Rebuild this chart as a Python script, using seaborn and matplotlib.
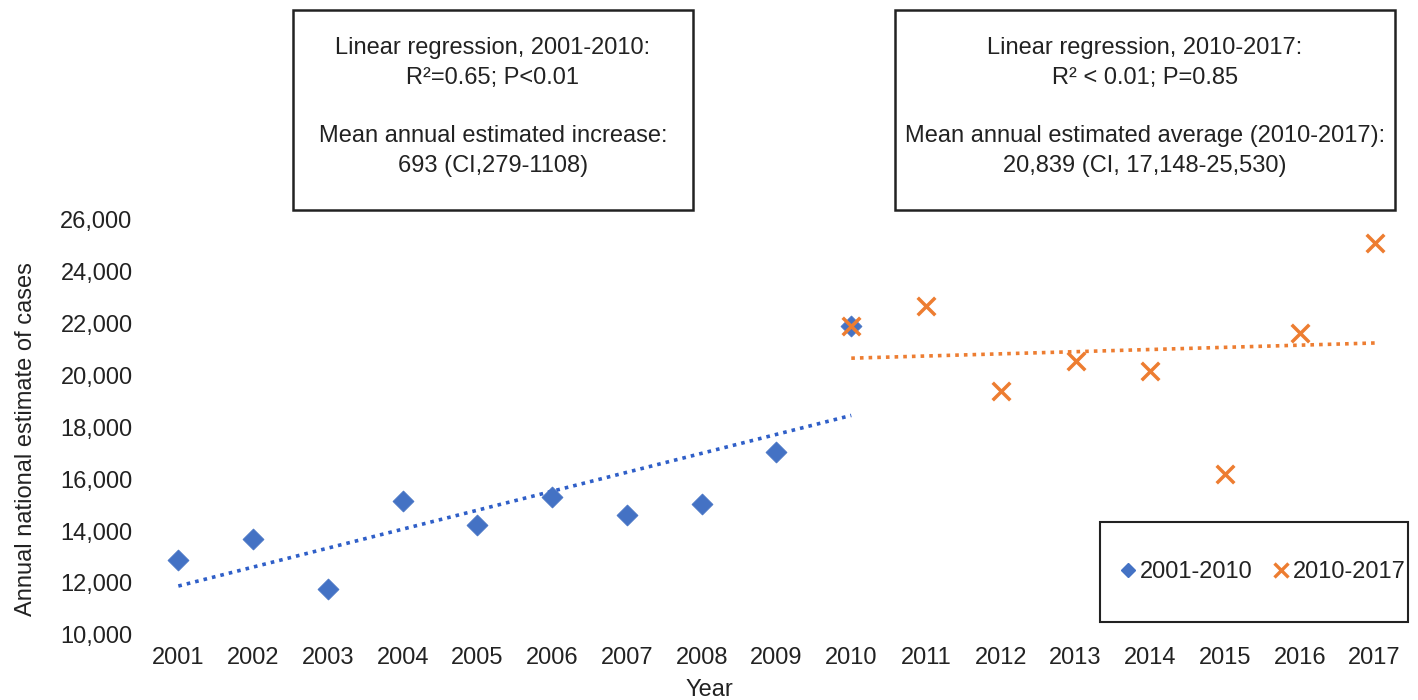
import matplotlib
matplotlib.use('Agg')
import matplotlib.pyplot as plt
from matplotlib.patches import Rectangle
from matplotlib.lines import Line2D
import seaborn as sns
import pandas as pd

years_a = [2001, 2002, 2003, 2004, 2005, 2006, 2007, 2008, 2009, 2010]
cases_a = [12900, 13700, 11750, 15150, 14250, 15300, 14600, 15050, 17050, 21900]
years_b = [2010, 2011, 2012, 2013, 2014, 2015, 2016, 2017]
cases_b = [21900, 22650, 19400, 20550, 20150, 16200, 21600, 25080]
y_ticks = [10000, 12000, 14000, 16000, 18000, 20000, 22000, 24000, 26000]

box_a = ['Linear regression, 2001-2010:', 'R\u00b2=0.65; P<0.01', '',
         'Mean annual estimated increase:', '693 (CI,279-1108)']
box_b = ['Linear regression, 2010-2017:', 'R\u00b2 < 0.01; P=0.85', '',
         'Mean annual estimated average (2010-2017):', '20,839 (CI, 17,148-25,530)']

BLUE = '#4472C4'
ORANGE = '#ED7D31'
TEXT = '#222222'
FS = 17

sns.set_theme(style='white')
plt.rcParams['font.family'] = ['Liberation Sans', 'DejaVu Sans']

df_a = pd.DataFrame({'year': years_a, 'cases': cases_a})
df_b = pd.DataFrame({'year': years_b, 'cases': cases_b})

W, H = 1418.0, 700.0
fig = plt.figure(figsize=(14.18, 7.0), dpi=100)
ax = fig.add_axes([0.0994, 0.0929, 0.8964, 0.5941])

# trend lines
sns.regplot(data=df_a, x='year', y='cases', ax=ax, scatter=False, ci=None,
            truncate=True, color=BLUE,
            line_kws=dict(linestyle=(0, (1, 1.4)), linewidth=2.6, color='#2F5FC8'))
sns.regplot(data=df_b, x='year', y='cases', ax=ax, scatter=False, ci=None,
            truncate=True, color=ORANGE,
            line_kws=dict(linestyle=(0, (1, 1.4)), linewidth=2.6, color=ORANGE))

sns.scatterplot(data=df_a, x='year', y='cases', ax=ax, marker='D', s=115,
                color=BLUE, edgecolor=BLUE, linewidth=0.5, zorder=3)
sns.scatterplot(data=df_b, x='year', y='cases', ax=ax, marker='x', s=160,
                color=ORANGE, linewidth=2.5, zorder=4)

ax.set_xlim(2000.5, 2017.5)
ax.set_ylim(10000, 26000)
ax.set_xticks(list(range(2001, 2018)))
ax.set_yticks(y_ticks)
ax.set_yticklabels([f'{v:,}' for v in y_ticks])
ax.tick_params(axis='both', length=0, labelsize=FS, colors=TEXT)
ax.tick_params(axis='x', pad=9)
ax.tick_params(axis='y', pad=6)
sns.despine(ax=ax, left=True, bottom=True)
ax.set_xlabel('Year', fontsize=FS, color=TEXT)
ax.xaxis.set_label_coords((709 - 141) / (0.8964 * W), -0.106)
ax.set_ylabel('Annual national estimate of cases', fontsize=FS, color=TEXT)
ax.yaxis.set_label_coords(-0.082, 0.47)

# legend
handles = [Line2D([], [], marker='D', color=BLUE, linestyle='none', markersize=7),
           Line2D([], [], marker='x', color=ORANGE, linestyle='none',
                  markersize=10, markeredgewidth=2.4)]
leg = ax.legend(handles, ['2001-2010', '2010-2017'], ncol=2, loc='center',
                bbox_to_anchor=(1263 / W, 1 - 572 / H),
                bbox_transform=fig.transFigure,
                fontsize=FS, frameon=False, handlelength=0.6,
                handletextpad=0.2, columnspacing=0.9)
for t in leg.get_texts():
    t.set_color(TEXT)
fig.add_artist(Rectangle((1100 / W, 1 - 622 / H), 308 / W, 100 / H,
                         transform=fig.transFigure, fill=False,
                         edgecolor='#222222', linewidth=1.5))

# annotation boxes (figure pixel layout)
for (x0, x1), lines in [((293, 693), box_a), ((895, 1395), box_b)]:
    fig.add_artist(Rectangle((x0 / W, 1 - 210 / H), (x1 - x0) / W, 200 / H,
                             transform=fig.transFigure, fill=False,
                             edgecolor='#222222', linewidth=1.8))
    cx = (x0 + x1) / 2 / W
    ys = [48, 78, 107, 136, 166]
    for yy, line in zip(ys, lines):
        if line:
            fig.text(cx, 1 - yy / H, line, ha='center', va='center',
                     fontsize=FS, color=TEXT)

fig.savefig('out.png', dpi=100)
